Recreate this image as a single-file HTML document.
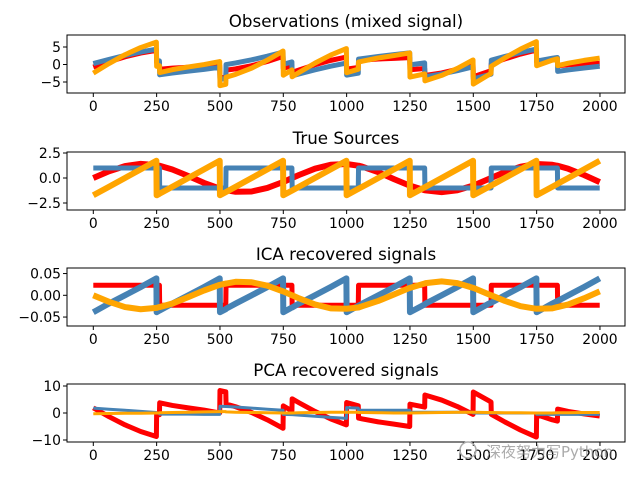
<!DOCTYPE html>
<html><head><meta charset="utf-8">
<style>
body{margin:0;background:#fff;}
svg{display:block;font-family:"DejaVu Sans","Liberation Sans","Noto Sans CJK SC",sans-serif;}
</style></head>
<body>
<svg id="fig" width="640" height="480" viewBox="0 0 640 480" xmlns="http://www.w3.org/2000/svg">
<rect x="0" y="0" width="640" height="480" fill="#fff"/>
</svg>
<script>
const samples=[0,62,125,187,249,250,261,262,312,375,437,499,500,523,524,562,625,687,749,750,784,785,812,875,937,999,1000,1046,1047,1062,1125,1187,1249,1250,1308,1309,1312,1375,1437,1499,1500,1562,1570,1571,1625,1687,1749,1750,1812,1832,1833,1875,1937,1999];
const xTicks=[0,250,500,750,1000,1250,1500,1750,2000];
// Observations
const obsRed=[-0.73,0.80,2.19,3.27,4.01,0.56,0.64,-1.34,-1.02,-0.80,-0.63,-0.34,-3.79,-3.63,-1.62,-1.25,-0.35,0.87,2.32,-1.13,-0.27,-2.25,-1.57,-0.07,1.18,2.12,-1.33,-0.86,1.15,1.26,1.58,1.75,1.96,-1.49,-1.15,-3.14,-3.11,-2.41,-1.37,-0.04,-3.49,-1.96,-1.76,0.26,1.60,2.99,4.12,0.67,1.45,1.62,-0.36,-0.08,0.16,0.31];
const obsBlue=[0.27,1.47,2.60,3.57,4.37,0.92,1.03,-2.95,-2.45,-1.90,-1.39,-0.81,-4.26,-4.02,-0.01,0.44,1.33,2.37,3.52,0.07,0.74,-3.25,-2.72,-1.54,-0.48,0.42,-3.03,-2.48,1.54,1.70,2.29,2.81,3.34,-0.11,0.46,-3.53,-3.49,-2.71,-1.76,-0.66,-4.11,-2.92,-2.76,1.25,2.30,3.43,4.42,0.97,1.79,2.01,-1.97,-1.54,-0.99,-0.49];
const obsOrange=[-2.46,0.27,2.79,4.84,6.38,-0.53,-0.33,-2.29,-1.47,-0.70,-0.02,0.85,-6.05,-5.65,-3.63,-2.81,-1.03,1.24,3.84,-3.06,-1.52,-3.50,-2.29,0.40,2.70,4.54,-2.36,-1.34,0.69,0.96,1.87,2.56,3.30,-3.60,-2.69,-4.67,-4.60,-3.12,-1.13,1.30,-5.60,-2.88,-2.52,-0.49,1.90,4.42,6.54,-0.36,1.24,1.63,-0.33,0.38,1.17,1.83];
// True sources
const srcRed=[0,0.67,1.19,1.41,1.29,1.29,1.22,1.22,0.85,0.20,-0.49,-1.06,-1.06,-1.22,-1.22,-1.38,-1.35,-0.99,-0.40,-0.40,-0.01,0,0.30,0.93,1.32,1.40,1.40,1.23,1.23,1.13,0.58,-0.11,-0.76,-0.76,-1.22,-1.22,-1.24,-1.41,-1.23,-0.76,-0.76,-0.09,0,0.01,0.60,1.13,1.40,1.40,1.32,1.22,1.22,0.92,0.30,-0.41];
const srcBlue=[1,1,1,1,1,1,1,-1,-1,-1,-1,-1,-1,-1,1,1,1,1,1,1,1,-1,-1,-1,-1,-1,-1,-1,1,1,1,1,1,1,1,-1,-1,-1,-1,-1,-1,-1,-1,1,1,1,1,1,1,1,-1,-1,-1,-1];
const srcOrange=[-1.73,-0.87,0,0.86,1.72,-1.73,-1.58,-1.56,-0.87,0,0.86,1.72,-1.73,-1.41,-1.40,-0.87,0,0.86,1.72,-1.73,-1.26,-1.25,-0.87,0,0.86,1.72,-1.73,-1.09,-1.08,-0.87,0,0.86,1.72,-1.73,-0.93,-0.92,-0.87,0,0.86,1.72,-1.73,-0.87,-0.76,-0.75,0,0.86,1.72,-1.73,-0.87,-0.60,-0.58,0,0.86,1.72];
// ICA recovered
const icaRed=[0.023,0.023,0.023,0.023,0.023,0.023,0.023,-0.023,-0.023,-0.023,-0.023,-0.023,-0.023,-0.023,0.023,0.023,0.023,0.023,0.023,0.023,0.023,-0.023,-0.023,-0.023,-0.023,-0.023,-0.023,-0.023,0.023,0.023,0.023,0.023,0.023,0.023,0.023,-0.023,-0.023,-0.023,-0.023,-0.023,-0.023,-0.023,-0.023,0.023,0.023,0.023,0.023,0.023,0.023,0.023,-0.023,-0.023,-0.023,-0.023];
const icaBlue=[-0.039,-0.019,0,0.019,0.039,-0.039,-0.035,-0.035,-0.019,0,0.019,0.039,-0.039,-0.032,-0.031,-0.019,0,0.019,0.039,-0.039,-0.028,-0.028,-0.019,0,0.019,0.039,-0.039,-0.024,-0.024,-0.019,0,0.019,0.039,-0.039,-0.021,-0.021,-0.019,0,0.019,0.039,-0.039,-0.019,-0.017,-0.017,0,0.019,0.039,-0.039,-0.019,-0.013,-0.013,0,0.019,0.039];
const icaOrange=[0,-0.015,-0.027,-0.032,-0.029,-0.029,-0.027,-0.027,-0.019,-0.004,0.011,0.024,0.024,0.027,0.027,0.031,0.030,0.022,0.009,0.009,0,0,-0.007,-0.021,-0.030,-0.031,-0.031,-0.028,-0.028,-0.025,-0.013,0.002,0.017,0.017,0.027,0.027,0.028,0.032,0.028,0.017,0.017,0.002,0,0,-0.013,-0.025,-0.031,-0.031,-0.030,-0.027,-0.027,-0.021,-0.007,0.009];
// PCA recovered
const pcaRed=[1.90,-1.37,-4.39,-6.85,-8.70,-0.42,-0.66,3.79,2.81,1.89,1.07,0.03,8.31,7.83,3.31,2.32,0.18,-2.53,-5.66,2.62,0.79,5.25,3.80,0.58,-2.19,-4.40,3.88,2.66,-1.87,-2.19,-3.29,-4.11,-5.01,3.27,2.18,6.66,6.57,4.79,2.40,-0.51,7.77,4.50,4.07,-0.47,-3.33,-6.34,-8.90,-0.62,-2.54,-3.01,1.44,0.59,-0.35,-1.14];
const pcaBlue=[1.8,1.4,1.0,0.6,0.2,0.0,0.0,-0.4,-0.4,-0.4,-0.5,-0.5,2.5,2.4,2.4,2.2,1.8,1.4,1.0,-0.5,-0.6,-0.6,-0.8,-1.2,-1.6,-2.0,2.0,1.8,1.0,1.0,1.0,1.0,1.0,0.3,0.3,0.3,0.3,0.3,0.3,0.3,0.0,0.0,0.0,0.0,0.0,0.0,0.0,-0.5,-0.5,-0.5,-0.5,-0.5,-0.5,-0.5];
const pcaOrange=[-0.3,-0.2,-0.1,-0.1,0.0,0.0,0.0,0.1,0.2,0.3,0.4,0.5,0.5,0.5,0.4,0.3,0.2,0.1,0.0,0.0,0.0,0.0,0.1,0.2,0.3,0.3,0.3,0.3,0.2,0.2,0.1,0.0,0.0,0.0,0.1,0.1,0.1,0.2,0.3,0.3,0.3,0.2,0.2,0.2,0.1,0.1,0.0,0.0,0.0,0.1,0.1,0.1,0.2,0.2];
const yTicks1=[-5,0,5], yLabels1=["−5","0","5"];
const yTicks2=[-2.5,0,2.5], yLabels2=["−2.5","0.0","2.5"];
const yTicks3=[-0.05,0,0.05], yLabels3=["−0.05","0.00","0.05"];
const yTicks4=[-10,0,10], yLabels4=["−10","0","10"];

const NS="http://www.w3.org/2000/svg";
const fig=document.getElementById('fig');
function mk(tag,attrs,parent){const e=document.createElementNS(NS,tag);for(const k in attrs)e.setAttribute(k,attrs[k]);(parent||fig).appendChild(e);return e;}
const L=67,R=625;
const xScale=v=>93.3+v*0.25333;

const panels=[
 {name:'observations',title:'Observations (mixed signal)',top:35,bot:93,y0:64.5,k:3.5,ticks:yTicks1,labels:yLabels1,series:[obsRed,obsBlue,obsOrange],widths:[5,5,5]},
 {name:'true-sources',title:'True Sources',top:152,bot:210,y0:178,k:10,ticks:yTicks2,labels:yLabels2,series:[srcRed,srcBlue,srcOrange],widths:[6,5,6]},
 {name:'ica',title:'ICA recovered signals',top:268,bot:326,y0:295.3,k:435,ticks:yTicks3,labels:yLabels3,series:[icaRed,icaBlue,icaOrange],widths:[5,6,6]},
 {name:'pca',title:'PCA recovered signals',top:384,bot:442,y0:413,k:2.7,ticks:yTicks4,labels:yLabels4,series:[pcaRed,pcaBlue,pcaOrange],widths:[5,3,3]}
];
const colors=['red','steelblue','orange'];
const cnames=['red','blue','orange'];
panels.forEach((p,pi)=>{
  const g=mk('g',{});
  
  
  const yScale=v=>p.y0-v*p.k;
  const cp=mk('clipPath',{id:'clip'+pi},g);
  mk('rect',{x:L,y:p.top,width:R-L,height:p.bot-p.top},cp);
  const lg=mk('g',{'clip-path':'url(#clip'+pi+')'},g);
  p.series.forEach((vals,si)=>{
    const d=vals.map((v,i)=>(i?'L':'M')+xScale(samples[i]).toFixed(2)+','+yScale(v).toFixed(2)).join(' ');
    const path=mk('path',{d:d,fill:'none',stroke:colors[si],'stroke-width':p.widths[si],'stroke-linejoin':'round','stroke-linecap':'butt'},lg);
    
    
  });
  const frame=mk('rect',{x:L,y:p.top,width:R-L,height:p.bot-p.top,fill:'none',stroke:'#000','stroke-width':1},g);
  
  
  xTicks.forEach(t=>{
    const x=xScale(t);
    mk('line',{x1:x,x2:x,y1:p.bot,y2:p.bot+4,stroke:'#000','stroke-width':1},g);
    const tx=mk('text',{x:x,y:p.bot+18,'font-size':13.9,'text-anchor':'middle',fill:'#000'},g);
    tx.textContent=t;
    
    
  });
  p.ticks.forEach((t,i)=>{
    const y=yScale(t);
    mk('line',{x1:L-4,x2:L,y1:y,y2:y,stroke:'#000','stroke-width':1},g);
    const tx=mk('text',{x:L-6,y:y+5,'font-size':13.9,'text-anchor':'end',fill:'#000'},g);
    tx.textContent=p.labels[i];
    
    
  });
  const tt=mk('text',{x:(L+R)/2,y:p.top-8,'font-size':16.7,'text-anchor':'middle',fill:'#000'},g);
  tt.textContent=p.title;
  
  
});
const wm=mk('text',{x:486,y:457,'font-size':15,fill:'#888','fill-opacity':0.7});
wm.textContent='深夜努力写Python';


const ic=mk('circle',{cx:468,cy:450,r:8,fill:'none',stroke:'#aaa','stroke-width':1.5});


</script>
</body></html>
